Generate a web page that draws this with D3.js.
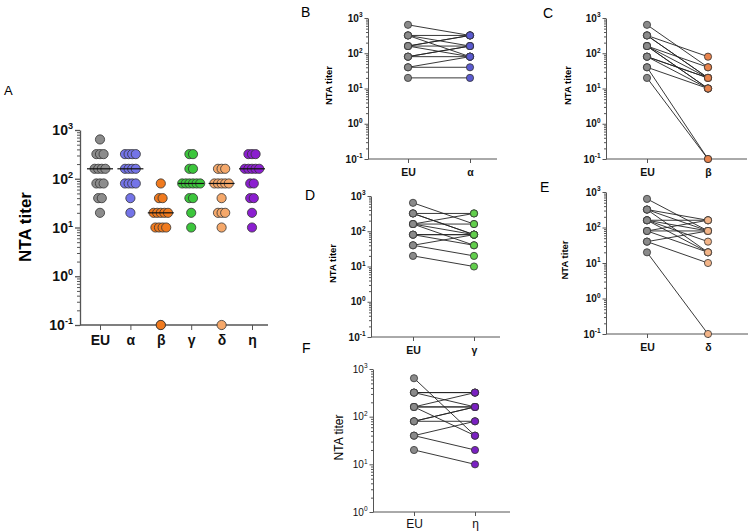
<!DOCTYPE html>
<html><head><meta charset="utf-8">
<script src="https://cdn.jsdelivr.net/npm/d3@7"></script>
<style>body{margin:0;background:#fff}svg{font-family:"Liberation Sans",Arial,sans-serif}</style>
</head><body><svg id="c" width="750" height="531"></svg>
<script>
// ---- data ----
const categories = ["EU","α","β","γ","δ","η"];
const euTiters    = [640,320,320,320,160,160,160,160,80,80,80,40,40,20];
const alphaTiters = [320,320,160,80,320,160,80,320,160,80,160,40,80,20];
const betaTiters  = [40,80,20,20,40,20,10,10,20,20,10,0.1,10,0.1];
const gammaTiters = [160,320,80,80,320,160,80,40,80,80,40,80,20,10];
const deltaTiters = [80,160,80,20,160,80,40,20,160,80,20,80,10,0.1];
const etaTiters   = [40,320,160,320,160,320,160,40,160,80,160,80,20,10];
const majorTicks = [0.1,1,10,100,1000];
const tickExponents = ["-1","0","1","2","3"];
const yAxisTitle = "NTA titer";

const allSeries = [euTiters, alphaTiters, betaTiters, gammaTiters, deltaTiters, etaTiters];
const dotColorsA = ["#8c8c8c","#7474e8","#f07a1e","#3cc63c","#f5a86a","#8b1ed0"];
const pairColors = ["#5a5ad0","#e8834c","#62cf4c","#f2b488","#7a20c2"];

const svg = d3.select("#c");

function logAxis(g, y, x0, o) {
  const [lo, hi] = y.domain();
  const majors = majorTicks.filter(v => v >= lo*0.999 && v <= hi*1.001);
  const minors = [];
  for (let e = Math.round(Math.log10(lo)); e < Math.round(Math.log10(hi)); e++)
    for (let k = 2; k <= 9; k++) minors.push(k*Math.pow(10, e));
  const gm = g.append("g").attr("transform", `translate(${x0},0)`)
    .call(d3.axisLeft(y).tickValues(minors).tickSize(o.minor).tickFormat(""));
  gm.select(".domain").remove();
  gm.selectAll("line").attr("stroke", "#555");
  const gM = g.append("g").attr("transform", `translate(${x0},0)`)
    .call(d3.axisLeft(y).tickValues(majors).tickSize(o.major).tickSizeOuter(0).tickFormat(""));
  gM.selectAll("line,path").attr("stroke", "#555").attr("stroke-width", o.sw || 1);
  majors.forEach(v => {
    const t = g.append("text").attr("x", x0 - o.major - 2).attr("y", y(v) + o.fs*0.36)
      .attr("text-anchor", "end").attr("font-size", o.fs).attr("font-weight", o.bold ? "bold" : "normal").attr("fill", "#111");
    t.append("tspan").text("10");
    t.append("tspan").attr("font-size", o.fs*0.65).attr("dy", -o.fs*0.42)
      .text(tickExponents[majorTicks.indexOf(v)]);
  });
}

// ---- Panel A ----
(function() {
  const g = svg.append("g");
  const y = d3.scaleLog().domain([0.1, 1000]).range([325, 130]);
  const x = d3.scalePoint().domain(categories).range([100, 252]);
  logAxis(g, y, 80, {minor: 3, major: 5, fs: 14, bold: true, sw: 1.3});
  const gx = g.append("g").attr("transform", "translate(0,325)")
    .call(d3.axisBottom(x).tickSize(5).tickSizeOuter(0).tickPadding(5));
  gx.select(".domain").attr("d", "M80,0H268").attr("stroke", "#555").attr("stroke-width", 1.3);
  gx.selectAll("line").attr("stroke", "#555");
  gx.selectAll("text").attr("font-size", 14).attr("font-weight", "bold").attr("fill", "#111")
    .attr("font-family", "Liberation Sans, Arial, sans-serif");
  g.append("text").attr("transform", "translate(31,227) rotate(-90)").attr("text-anchor", "middle")
    .attr("font-size", 17).attr("font-weight", "bold").text(yAxisTitle);
  g.append("text").attr("x", 4).attr("y", 95).attr("font-size", 13).text("A");

  allSeries.forEach((vals, ci) => {
    const counts = d3.rollup(vals, v => v.length, d => d);
    const pts = [];
    counts.forEach((n, v) => {
      for (let i = 0; i < n; i++) {
        const off = v <= 0.1 ? 0 : (i - (n - 1) / 2) * 3.6;
        pts.push({v, off});
      }
    });
    g.append("g").selectAll("circle").data(pts).join("circle")
      .attr("cx", d => x(categories[ci]) + d.off).attr("cy", d => y(d.v)).attr("r", 4.6)
      .attr("fill", dotColorsA[ci]).attr("stroke", "#333").attr("stroke-width", 0.8);
    const med = d3.median(vals);
    g.append("line").attr("x1", x(categories[ci]) - 13).attr("x2", x(categories[ci]) + 13)
      .attr("y1", y(med)).attr("y2", y(med)).attr("stroke", "#111").attr("stroke-width", 1.2);
  });
})();

// ---- paired panels ----
const panels = [
  {letter:"B", lx:301, ly:17, ax:368, top:18, bot:159, lo:0.1, xe:408, xv:470, end:497, tx:332, cat:1, bold:true},
  {letter:"C", lx:543, ly:18, ax:606, top:18, bot:159, lo:0.1, xe:647, xv:708, end:747, tx:571, cat:2, bold:true},
  {letter:"D", lx:305, ly:200, ax:371, top:196, bot:337, lo:0.1, xe:413, xv:474, end:500, tx:336, cat:3, bold:true},
  {letter:"E", lx:540, ly:192, ax:606, top:192, bot:334, lo:0.1, xe:647, xv:708, end:748, tx:568, cat:4, bold:true},
  {letter:"F", lx:302, ly:353, ax:373, top:369, bot:512, lo:1, xe:414, xv:475, end:510, tx:343, cat:5, bold:false}
];
panels.forEach(p => {
  const g = svg.append("g");
  const y = d3.scaleLog().domain([p.lo, 1000]).range([p.bot, p.top]);
  const x = d3.scalePoint().domain(["EU", categories[p.cat]]).range([p.xe, p.xv]);
  logAxis(g, y, p.ax, {minor: 2, major: 3.5, fs: 10, bold: p.bold});
  const gx = g.append("g").attr("transform", `translate(0,${p.bot})`)
    .call(d3.axisBottom(x).tickSize(4).tickSizeOuter(0).tickPadding(p.bold ? 6 : 3));
  gx.select(".domain").attr("d", `M${p.ax},0H${p.end}`).attr("stroke", "#555");
  gx.selectAll("line").attr("stroke", "#555");
  gx.selectAll("text").attr("font-size", p.bold ? 10.5 : 12).attr("font-weight", p.bold ? "bold" : "normal")
    .attr("fill", "#111").attr("font-family", "Liberation Sans, Arial, sans-serif");
  g.append("text").attr("transform", `translate(${p.tx},${(p.top + p.bot)/2 - 3}) rotate(-90)`)
    .attr("text-anchor", "middle").attr("font-size", p.bold ? 9.5 : 12)
    .attr("font-weight", p.bold ? "bold" : "normal").text(yAxisTitle);
  g.append("text").attr("x", p.lx).attr("y", p.ly).attr("font-size", 14).text(p.letter);
  const variant = allSeries[p.cat];
  const pairs = euTiters.map((e, i) => ({e, v: variant[i]}));
  g.append("g").selectAll("line").data(pairs).join("line")
    .attr("x1", x("EU")).attr("y1", d => y(d.e)).attr("x2", x(categories[p.cat])).attr("y2", d => y(d.v))
    .attr("stroke", "#222").attr("stroke-width", 0.9);
  g.append("g").selectAll("circle").data(euTiters).join("circle")
    .attr("cx", x("EU")).attr("cy", d => y(d)).attr("r", 3.6)
    .attr("fill", "#8a8a8a").attr("stroke", "#333").attr("stroke-width", 0.8);
  g.append("g").selectAll("circle").data(variant).join("circle")
    .attr("cx", x(categories[p.cat])).attr("cy", d => y(d)).attr("r", 3.6)
    .attr("fill", pairColors[p.cat - 1]).attr("stroke", "#333").attr("stroke-width", 0.8);
});
</script></body></html>
